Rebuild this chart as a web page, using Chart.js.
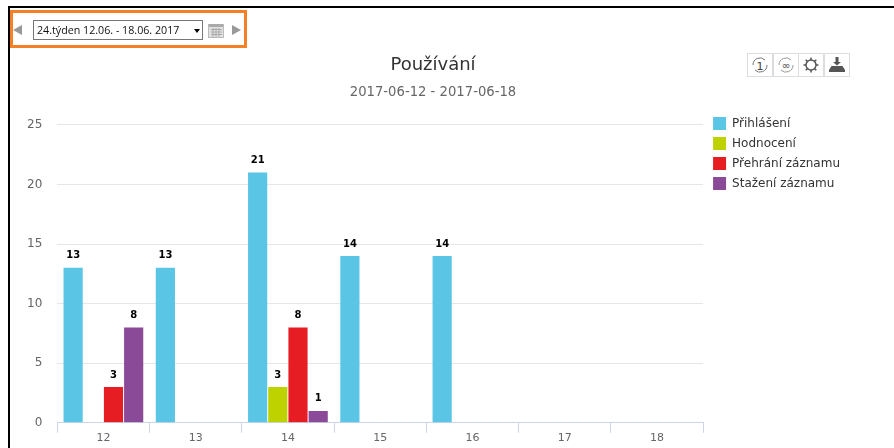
<!DOCTYPE html>
<html><head><meta charset="utf-8">
<script src="https://cdn.jsdelivr.net/npm/chart.js@4"></script>
<style>
html,body{margin:0;padding:0;background:#fff;width:894px;height:448px;overflow:hidden;font-family:"DejaVu Sans",sans-serif}
#wrap{position:absolute;left:0;top:0;width:866px;height:448px}
.abs{position:absolute}
#top{left:8px;top:6px;width:886px;height:2px;background:#000}
#left{left:8px;top:6px;width:2px;height:442px;background:#000}
#orange{left:10px;top:10px;width:231px;height:32px;border:3px solid #f58025}
#sel{left:33px;top:20px;width:165px;height:18px;border:1px solid #777;font:10.7px "Open Sans",sans-serif;line-height:18px;color:#111;padding-left:3px;box-sizing:content-box}
#sel b{position:absolute;right:2px;top:8px;border-left:3px solid transparent;border-right:3px solid transparent;border-top:4px solid #000;width:0;height:0}
.tb{position:absolute;top:53px;width:24px;height:22px;border:1px solid #ddd;background:#fff}
</style></head><body>
<div id="wrap"><canvas id="c"></canvas></div>
<div class="abs" id="top"></div><div class="abs" id="left"></div>
<div class="abs" id="orange"></div>
<svg class="abs" style="left:12px;top:24px" width="12" height="12"><path d="M10 1V11L1 6Z" fill="#999"/></svg>
<div class="abs" id="sel"><span id="seltxt"></span><b></b></div>
<svg class="abs" style="left:208px;top:22px" width="17" height="17"><rect x="0.5" y="2.5" width="15" height="13" fill="#e2e2e2" stroke="#bbb"/><rect x="1" y="2" width="14" height="3" fill="#aaa"/><path d="M3 7.5H14M3 10H14M3 12.5H14M5 6V15M8 6V15M11 6V15" stroke="#aaa" stroke-width="1"/></svg>
<svg class="abs" style="left:231px;top:24px" width="12" height="12"><path d="M1 1V11L10 6Z" fill="#999"/></svg>
<div class="tb" style="left:747px"><svg width="24" height="22"><path d="M5 11A7 7 0 0 1 17 6M19 11A7 7 0 0 1 7 16" fill="none" stroke="#777"/><text x="12" y="15.5" font-size="11" text-anchor="middle" fill="#444">1</text></svg></div>
<div class="tb" style="left:773px"><svg width="24" height="22"><path d="M5 11A7 7 0 0 1 17 6M19 11A7 7 0 0 1 7 16" fill="none" stroke="#999"/><text x="12" y="14.5" font-size="10" font-weight="bold" text-anchor="middle" fill="#777">∞</text></svg></div>
<div class="tb" style="left:798px"><svg width="24" height="22"><circle cx="12" cy="11" r="5" fill="none" stroke="#555" stroke-width="1.5"/><path d="M12 3.5V6M12 16V18.5M4.5 11H7M17 11H19.5M6.7 5.7L8.5 7.5M15.5 14.5L17.3 16.3M17.3 5.7L15.5 7.5M8.5 14.5L6.7 16.3" stroke="#555" stroke-width="1.5"/></svg></div>
<div class="tb" style="left:824px"><svg width="24" height="22"><path d="M10.5 3H13.5V8H16L12 11.5L8 8H10.5Z" fill="#555"/><path d="M6.5 12H17.5L20 16V18H4V16Z" fill="#555"/></svg></div>
<script>
const categories=["12","13","14","15","16","17","18"];
const prihlaseni=[13,13,21,14,14,null,null];
const hodnoceni=[null,null,3,null,null,null,null];
const prehrani=[3,null,8,null,null,null,null];
const stazeni=[8,null,1,null,null,null,null];
const seriesNames=["Přihlášení","Hodnocení","Přehrání záznamu","Stažení záznamu"];
const seriesColors=["#5bc5e6","#bed200","#e71d24","#8b4a97"];
const titleText="Používání";
const subtitleText="2017-06-12 - 2017-06-18";
const selectText="24.týden 12.06. - 18.06. 2017";
document.getElementById('seltxt').textContent=selectText;
const values=[prihlaseni,hodnoceni,prehrani,stazeni];
const labelPlugin={id:'vals',
 afterLayout(ch){
  ch.boxes.forEach(b=>{
    if(b===ch.legend){b.left+=3;b.right+=3;b.top+=55;b.bottom+=55;}
    else if(b.options&&b.position==='top'){b.left+=3.5;b.right+=3.5;}
  });
 },
 afterDatasetsDraw(ch){
  const x=ch.ctx;x.save();x.font='bold 10px "DejaVu Sans"';x.textAlign='center';x.textBaseline='bottom';x.fillStyle='#000';
  ch.data.datasets.forEach((d,i)=>{ch.getDatasetMeta(i).data.forEach((el,j)=>{
    if(d.data[j]==null)return;x.fillText(d.data[j],el.x,el.y-7);});});
  x.restore();}};
new Chart(document.getElementById('c'),{type:'bar',plugins:[labelPlugin],
data:{labels:categories,datasets:values.map((v,i)=>({label:seriesNames[i],data:v,backgroundColor:seriesColors[i],categoryPercentage:0.875,barPercentage:0.95}))},
options:{responsive:true,maintainAspectRatio:false,animation:false,
 layout:{padding:{left:12,right:19,top:55,bottom:4}},
 plugins:{tooltip:{enabled:false},
  title:{display:true,text:titleText,color:'#333',font:{family:'"DejaVu Sans"',size:18,weight:'normal'},padding:{top:0,bottom:8}},
  subtitle:{display:true,text:subtitleText,color:'#666',font:{family:'"DejaVu Sans"',size:13.2},padding:{bottom:24.4}},
  legend:{position:'right',align:'start',labels:{boxWidth:13,boxHeight:13,padding:7,color:'#333',font:{family:'"DejaVu Sans"',size:12}}}},
 scales:{
  x:{grid:{display:true,drawOnChartArea:false,drawTicks:true,tickLength:10,color:'#ccd6eb'},border:{color:'#ccd6eb'},ticks:{color:'#666',font:{family:'"DejaVu Sans"',size:11},padding:-1,maxRotation:0}},
  y:{min:0,max:25,grid:{color:'#e6e6e6',drawTicks:false},border:{display:false},ticks:{stepSize:5,color:'#666',font:{family:'"DejaVu Sans"',size:12},padding:15}}
 }}});
</script></body></html>
